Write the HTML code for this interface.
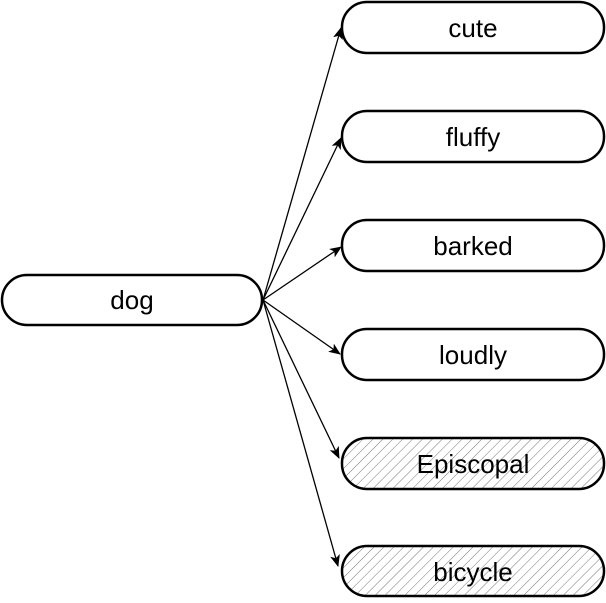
<!DOCTYPE html>
<html><head><style>html,body{margin:0;padding:0;background:#fff}</style></head>
<body>
<svg width="606" height="598" viewBox="0 0 606 598" xmlns="http://www.w3.org/2000/svg">
<defs>
<pattern id="h" width="7" height="7" patternUnits="userSpaceOnUse" patternTransform="rotate(45)">
<line x1="0" y1="0" x2="0" y2="7" stroke="#555" stroke-width="0.8"/>
</pattern>
<marker id="a" markerWidth="12" markerHeight="10" refX="11" refY="5" orient="auto" markerUnits="userSpaceOnUse">
<path d="M0,0 L12,5 L0,10 L3,5 z" fill="#000"/>
</marker>
</defs>
<g font-family="'Liberation Sans',sans-serif" font-size="26" text-anchor="middle">
<rect x="2" y="275" width="260" height="50" rx="25" fill="#fff" stroke="#000" stroke-width="2.5"/>
<text x="132" y="309">dog</text>
<g stroke="#000" stroke-width="1.3" fill="none" marker-end="url(#a)">
<line x1="263" y1="300" x2="341" y2="28"/>
<line x1="263" y1="300" x2="341" y2="138"/>
<line x1="263" y1="300" x2="341" y2="247"/>
<line x1="263" y1="300" x2="340" y2="354"/>
<line x1="263" y1="300" x2="339" y2="458"/>
<line x1="263" y1="300" x2="338" y2="566"/>
</g>
<rect x="342" y="2" width="262" height="51" rx="25" fill="#fff" stroke="#000" stroke-width="2.5"/>
<text x="473" y="37">cute</text>
<rect x="342" y="111" width="262" height="51" rx="25" fill="#fff" stroke="#000" stroke-width="2.5"/>
<text x="473" y="146">fluffy</text>
<rect x="342" y="220" width="262" height="51" rx="25" fill="#fff" stroke="#000" stroke-width="2.5"/>
<text x="473" y="255">barked</text>
<rect x="342" y="329" width="262" height="51" rx="25" fill="#fff" stroke="#000" stroke-width="2.5"/>
<text x="473" y="364">loudly</text>
<rect x="342" y="438" width="262" height="51" rx="25" fill="url(#h)" stroke="#000" stroke-width="2.5"/>
<text x="473" y="473">Episcopal</text>
<rect x="342" y="546" width="262" height="50" rx="25" fill="url(#h)" stroke="#000" stroke-width="2.5"/>
<text x="473" y="581">bicycle</text>
</g>
</svg>
</body></html>
